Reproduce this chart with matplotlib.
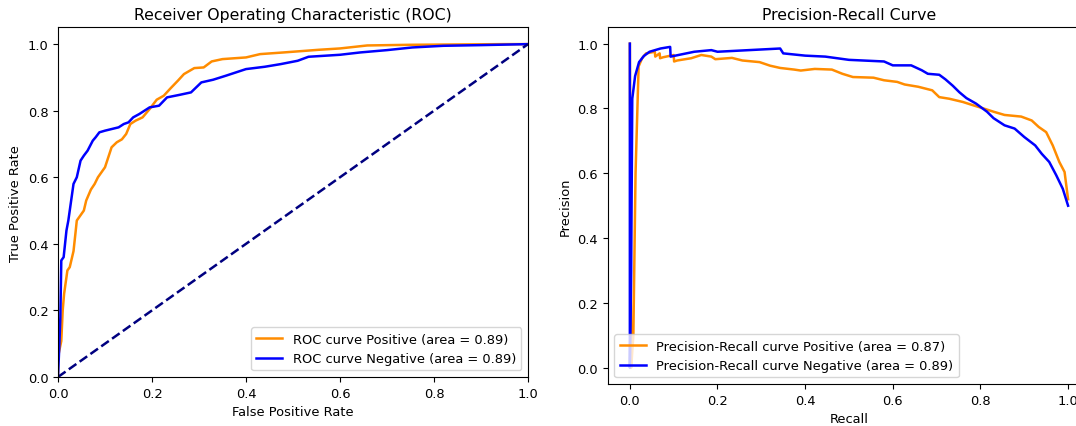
import numpy as np
import matplotlib
matplotlib.use("Agg")
import matplotlib.pyplot as plt

# ROC curves
fpr_pos = [0.0, 0.0, 0.007, 0.01, 0.013, 0.015, 0.02, 0.025, 0.033, 0.037, 0.04, 0.045, 0.055, 0.06,
           0.07, 0.078, 0.085, 0.1, 0.107, 0.114, 0.125, 0.136, 0.145, 0.154, 0.165, 0.18, 0.195,
           0.21, 0.225, 0.24, 0.255, 0.268, 0.29, 0.31, 0.327, 0.35, 0.4, 0.43, 0.48, 0.555, 0.6,
           0.658, 0.75, 0.85, 0.95, 1.0]
tpr_pos = [0.0, 0.06, 0.108, 0.2, 0.25, 0.27, 0.32, 0.33, 0.378, 0.43, 0.47, 0.48, 0.5, 0.53,
           0.563, 0.58, 0.6, 0.63, 0.66, 0.69, 0.705, 0.714, 0.73, 0.76, 0.77, 0.78, 0.805,
           0.833, 0.845, 0.868, 0.89, 0.91, 0.928, 0.93, 0.948, 0.955, 0.96, 0.97, 0.975, 0.983, 0.987,
           0.996, 0.998, 0.999, 1.0, 1.0]

fpr_neg = [0.0, 0.003, 0.005, 0.007, 0.012, 0.018, 0.022, 0.026, 0.03, 0.033, 0.04, 0.048, 0.055,
           0.063, 0.074, 0.08, 0.088, 0.1, 0.129, 0.14, 0.15, 0.16, 0.173, 0.195, 0.215, 0.232,
           0.26, 0.283, 0.305, 0.33, 0.357, 0.4, 0.44, 0.474, 0.51, 0.533, 0.6, 0.643, 0.7,
           0.754, 0.82, 0.9, 1.0]
tpr_neg = [0.0, 0.1, 0.18, 0.35, 0.36, 0.44, 0.47, 0.51, 0.55, 0.58, 0.6, 0.65, 0.665,
           0.68, 0.71, 0.72, 0.735, 0.74, 0.75, 0.76, 0.765, 0.78, 0.79, 0.81, 0.815, 0.84,
           0.848, 0.855, 0.885, 0.893, 0.905, 0.925, 0.932, 0.94, 0.95, 0.962, 0.968, 0.975, 0.982,
           0.99, 0.995, 0.997, 1.0]

# Precision-recall curves
rec_pos = [0.0, 0.003, 0.008, 0.013, 0.02, 0.028, 0.037, 0.057, 0.058, 0.068, 0.069, 0.076, 0.1,
           0.101, 0.108, 0.14, 0.163, 0.186, 0.195, 0.233, 0.257, 0.296, 0.32, 0.343, 0.375,
           0.39, 0.422, 0.461, 0.485, 0.509, 0.556, 0.58, 0.61, 0.627, 0.658, 0.69, 0.706,
           0.729, 0.76, 0.783, 0.807, 0.83, 0.855, 0.893, 0.917, 0.933, 0.95, 0.965, 0.98,
           0.992, 1.0]
prec_pos = [1.0, 0.0, 0.1, 0.6, 0.93, 0.955, 0.97, 0.975, 0.96, 0.97, 0.955, 0.958, 0.965,
            0.945, 0.948, 0.955, 0.965, 0.96, 0.952, 0.956, 0.948, 0.943, 0.932, 0.925, 0.92,
            0.917, 0.922, 0.92, 0.907, 0.897, 0.895, 0.887, 0.882, 0.874, 0.867, 0.856, 0.835,
            0.83, 0.82, 0.81, 0.8, 0.79, 0.78, 0.775, 0.763, 0.743, 0.727, 0.686, 0.635,
            0.604, 0.52]

rec_neg = [0.0, 0.0, 0.003, 0.0055, 0.012, 0.021, 0.032, 0.045, 0.07, 0.092, 0.093, 0.147,
           0.186, 0.2, 0.343, 0.35, 0.4, 0.446, 0.5, 0.58, 0.6, 0.642, 0.666, 0.68, 0.706,
           0.72, 0.737, 0.752, 0.768, 0.79, 0.815, 0.83, 0.855, 0.878, 0.9, 0.925, 0.94,
           0.957, 0.973, 0.988, 1.0]
prec_neg = [1.0, 0.0, 0.3, 0.83, 0.9, 0.943, 0.962, 0.975, 0.985, 0.99, 0.96, 0.975,
            0.98, 0.975, 0.985, 0.97, 0.963, 0.96, 0.95, 0.945, 0.933, 0.933, 0.918, 0.907, 0.904,
            0.89, 0.87, 0.85, 0.832, 0.815, 0.79, 0.77, 0.748, 0.738, 0.712, 0.686, 0.66,
            0.635, 0.594, 0.552, 0.5]

roc_auc = [0.89, 0.89]
pr_auc = [0.87, 0.89]

plt.rcParams['font.size'] = 9.4

fig = plt.figure(figsize=(10.76, 4.27), dpi=100)
ax1 = fig.add_axes([0.0539, 0.1148, 0.4368, 0.8185])
ax2 = fig.add_axes([0.565, 0.0984, 0.448, 0.835])

lw = 1.8
ax1.plot(fpr_pos, tpr_pos, color='darkorange', lw=lw,
         label='ROC curve Positive (area = %0.2f)' % roc_auc[0])
ax1.plot(fpr_neg, tpr_neg, color='blue', lw=lw,
         label='ROC curve Negative (area = %0.2f)' % roc_auc[1])
ax1.plot([0, 1], [0, 1], color='navy', lw=lw, linestyle='--')
ax1.set_xlim([0.0, 1.0])
ax1.set_ylim([0.0, 1.05])
ax1.set_xlabel('False Positive Rate')
ax1.set_ylabel('True Positive Rate')
ax1.set_title('Receiver Operating Characteristic (ROC)', fontsize=11.3)
ax1.legend(loc='lower right')

ax2.plot(rec_pos, prec_pos, color='darkorange', lw=lw,
         label='Precision-Recall curve Positive (area = %0.2f)' % pr_auc[0])
ax2.plot(rec_neg, prec_neg, color='blue', lw=lw,
         label='Precision-Recall curve Negative (area = %0.2f)' % pr_auc[1])
ax2.set_xlabel('Recall')
ax2.set_ylabel('Precision')
ax2.set_title('Precision-Recall Curve', fontsize=11.3)
ax2.legend(loc='lower left')

fig.savefig('out.png', dpi=100)
